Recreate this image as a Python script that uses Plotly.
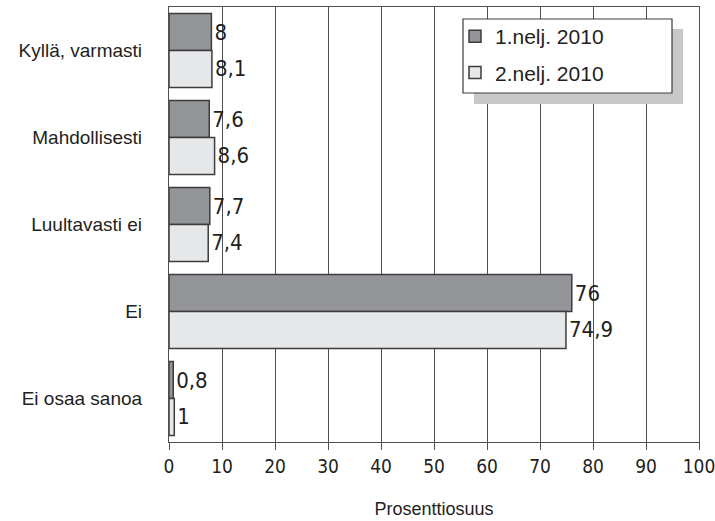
import plotly.graph_objects as go

categories = ["Kyllä, varmasti", "Mahdollisesti", "Luultavasti ei", "Ei", "Ei osaa sanoa"]
q1_2010 = [8, 7.6, 7.7, 76, 0.8]
q2_2010 = [8.1, 8.6, 7.4, 74.9, 1]
series_names = ["1.nelj. 2010", "2.nelj. 2010"]
x_ticks = list(range(0, 101, 10))

W, H = 715, 521
ML, MR, MT, MB = 169, 16, 7, 79
PW, PH = W - ML - MR, H - MT - MB

NARROW = "DejaVu Sans Condensed, Liberation Sans Narrow, Roboto, sans-serif"
REG = "Liberation Sans, Arial, sans-serif"
INK = "#231f20"
EDGE = "#3c3c3c"


def px_x(p):
    return (p - ML) / PW


def px_y(p):
    return (H - MB - p) / PH


fig = go.Figure()
for i, (name, vals, fill) in enumerate([(series_names[0], q1_2010, "#939598"),
                                        (series_names[1], q2_2010, "#e6e7e8")]):
    fig.add_trace(go.Bar(
        y=categories, x=vals, name=name, orientation="h",
        legendgroup=f"g{i}",
        marker=dict(color=fill, line=dict(color=EDGE, width=1.5)),
        texttemplate="%{x}", textposition="outside", constraintext="none",
        textfont=dict(family=NARROW, size=22, color=INK),
        cliponaxis=False,
    ))

# legend frame with drop shadow
shapes = [
    dict(type="rect", xref="paper", yref="paper",
         x0=px_x(474), x1=px_x(683), y0=px_y(104), y1=px_y(29),
         fillcolor="#c8c8c8", line=dict(width=0), layer="above"),
    dict(type="rect", xref="paper", yref="paper",
         x0=px_x(463), x1=px_x(672), y0=px_y(93), y1=px_y(19),
         fillcolor="white", line=dict(color=EDGE, width=1.2), layer="above"),
]

fig.update_layout(
    width=W, height=H,
    margin=dict(l=ML, r=MR, t=MT, b=MB, pad=0, autoexpand=False),
    paper_bgcolor="white", plot_bgcolor="white",
    barmode="group", bargap=0.15, bargroupgap=0,
    separators=", ",
    showlegend=True,
    legend=dict(
        x=px_x(455), y=px_y(16), xanchor="left", yanchor="top",
        bgcolor="rgba(0,0,0,0)", borderwidth=0,
        font=dict(family=REG, size=21, color=INK),
        itemwidth=30, tracegroupgap=6,
    ),
    shapes=shapes,
    xaxis=dict(
        range=[0, 100], tickvals=x_ticks, ticktext=[str(v) for v in x_ticks],
        showgrid=True, gridcolor="#505050", gridwidth=1,
        showline=True, linecolor="#505050", linewidth=1.2, mirror=True,
        ticks="outside", ticklen=7, tickcolor="#505050",
        tickfont=dict(family=NARROW, size=19, color=INK),
        ticklabeloverflow="allow", automargin=False,
        zeroline=False,
        title=dict(text="Prosenttiosuus", font=dict(family=REG, size=18, color=INK), standoff=26),
    ),
    yaxis=dict(
        autorange="reversed", showgrid=False, automargin=False,
        showline=True, linecolor="#505050", linewidth=1.2, mirror=True,
        ticks="", ticklabelstandoff=22,
        tickfont=dict(family=REG, size=19, color=INK),
    ),
)

fig.write_html("out.html")
